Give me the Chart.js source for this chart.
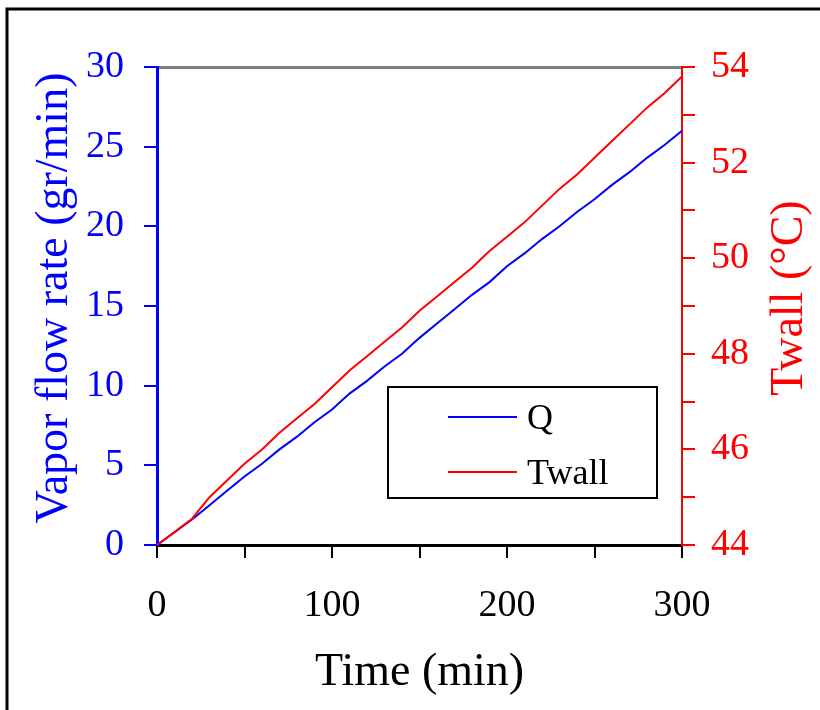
<!DOCTYPE html>
<html>
<head>
<meta charset="utf-8">
<script src="https://cdn.jsdelivr.net/npm/chart.js@4.4.1/dist/chart.umd.min.js"></script>
<style>
html,body{margin:0;padding:0;background:#fff;}
#wrap{width:820px;height:710px;position:relative;}
</style>
</head>
<body>
<div id="wrap"><canvas id="c" width="820" height="710"></canvas></div>
<script>
// ---- data ----
const timeMin = [0,10,20,30,40,50,60,70,80,90,100,110,120,130,140,150,160,170,180,190,200,210,220,230,240,250,260,270,280,290,300];
const vaporFlow = [0,0.8,1.6,2.5,3.4,4.3,5.1,6.0,6.8,7.7,8.5,9.5,10.3,11.2,12.0,13.0,13.9,14.8,15.7,16.5,17.5,18.3,19.2,20.0,20.9,21.7,22.6,23.4,24.3,25.1,26.0];
const twall = [44.0,44.27,44.55,45.0,45.35,45.7,46.0,46.35,46.65,46.95,47.3,47.65,47.95,48.25,48.55,48.9,49.2,49.5,49.8,50.15,50.45,50.75,51.1,51.45,51.75,52.1,52.45,52.8,53.15,53.45,53.8];
const seriesNames = ['Q','Twall'];
const xTickLabels = ['0','100','200','300'];
const yLeftTickLabels = ['0','5','10','15','20','25','30'];
const yRightTickLabels = ['44','46','48','50','52','54'];
const xTitle = 'Time (min)';
const yLeftTitle = 'Vapor flow rate (gr/min)';
const yRightTitle = 'Twall (°C)';

const FONT = '"Liberation Serif", "Times New Roman", serif';
Chart.defaults.font.family = FONT;

const decor = {
  id: 'decor',
  beforeDraw(chart) {
    const ctx = chart.ctx;
    ctx.save();
    ctx.fillStyle = '#fff';
    ctx.fillRect(0, 0, chart.width, chart.height);
    ctx.strokeStyle = '#000';
    ctx.lineWidth = 3;
    ctx.beginPath();
    ctx.moveTo(7, chart.height);
    ctx.lineTo(7, 9);
    ctx.lineTo(chart.width, 9);
    ctx.stroke();
    ctx.restore();
  },
  afterDraw(chart) {
    const ctx = chart.ctx;
    const ca = chart.chartArea;
    const midY = (ca.top + ca.bottom) / 2 - 8;
    ctx.save();
    ctx.font = '46px ' + FONT;
    ctx.textAlign = 'center';
    ctx.textBaseline = 'alphabetic';
    // x title
    ctx.fillStyle = '#000';
    ctx.fillText(xTitle, (ca.left + ca.right) / 2, ca.bottom + 140);
    // left title
    ctx.save();
    ctx.translate(67, midY);
    ctx.rotate(-Math.PI / 2);
    ctx.fillStyle = '#0000ff';
    ctx.fillText(yLeftTitle, 0, 0);
    ctx.restore();
    // right title
    ctx.save();
    ctx.translate(ca.right + 120, midY);
    ctx.rotate(-Math.PI / 2);
    ctx.fillStyle = '#ff0000';
    ctx.fillText(yRightTitle, 0, 0);
    ctx.restore();
    // legend
    const bx = ca.left + 231, by = ca.top + 320, bw = 269, bh = 111;
    ctx.strokeStyle = '#000';
    ctx.lineWidth = 2;
    ctx.strokeRect(bx, by, bw, bh);
    ctx.font = '36px ' + FONT;
    ctx.textAlign = 'left';
    chart.data.datasets.forEach((ds, i) => {
      const ly = by + 30 + i * 55;
      ctx.strokeStyle = ds.borderColor;
      ctx.lineWidth = 2;
      ctx.beginPath();
      ctx.moveTo(bx + 60, ly);
      ctx.lineTo(bx + 129, ly);
      ctx.stroke();
      ctx.fillStyle = '#000';
      ctx.fillText(ds.label, bx + 139, ly + 12);
    });
    ctx.restore();
  }
};

new Chart(document.getElementById('c'), {
  type: 'line',
  data: {
    datasets: [
      {
        label: seriesNames[0],
        data: timeMin.map((t, i) => ({x: t, y: vaporFlow[i]})),
        borderColor: '#0000ff',
        borderWidth: 2,
        pointRadius: 0,
        tension: 0,
        yAxisID: 'y',
        xAxisID: 'x',
        order: 2,
        clip: false
      },
      {
        label: seriesNames[1],
        data: timeMin.map((t, i) => ({x: t, y: twall[i]})),
        borderColor: '#ff0000',
        borderWidth: 2,
        pointRadius: 0,
        tension: 0,
        yAxisID: 'y2',
        xAxisID: 'x',
        order: 1,
        clip: false
      }
    ]
  },
  options: {
    responsive: false,
    animation: false,
    devicePixelRatio: 1,
    layout: {padding: 0},
    plugins: {legend: {display: false}, tooltip: {enabled: false}},
    scales: {
      x: {
        type: 'linear', position: 'bottom', min: 0, max: 300,
        ticks: {
          stepSize: 50, autoSkip: false, maxRotation: 0, color: '#000', padding: 25,
          font: {size: 38},
          callback: (v) => { const s = String(v); return xTickLabels.includes(s) ? s : ''; }
        },
        grid: {drawOnChartArea: false, drawTicks: true, tickLength: 13, color: '#000', lineWidth: 2},
        border: {color: '#000', width: 3},
        afterFit: (s) => { s.height = 165; }
      },
      x2: {
        type: 'linear', position: 'top', min: 0, max: 300,
        ticks: {display: false},
        grid: {drawOnChartArea: false, drawTicks: false, lineWidth: 0},
        border: {color: '#808080', width: 3},
        afterFit: (s) => { s.height = 67; }
      },
      y: {
        type: 'linear', position: 'left', min: 0, max: 30,
        ticks: {
          stepSize: 5, color: '#0000ff', padding: 20, font: {size: 38},
          callback: (v) => { const s = String(v); return yLeftTickLabels.includes(s) ? s : ''; }
        },
        grid: {drawOnChartArea: false, drawTicks: true, tickLength: 13, color: '#0000ff', lineWidth: 2},
        border: {color: '#0000ff', width: 3},
        afterFit: (s) => { s.width = 157; }
      },
      y2: {
        type: 'linear', position: 'right', min: 44, max: 54,
        ticks: {
          stepSize: 1, autoSkip: false, color: '#ff0000', padding: 16, font: {size: 38},
          callback: (v) => { const s = String(v); return yRightTickLabels.includes(s) ? s : ''; }
        },
        grid: {drawOnChartArea: false, drawTicks: true, tickLength: 13, color: '#ff0000', lineWidth: 2},
        border: {color: '#ff0000', width: 2},
        afterFit: (s) => { s.width = 138; }
      }
    }
  },
  plugins: [decor]
});
</script>
</body>
</html>
